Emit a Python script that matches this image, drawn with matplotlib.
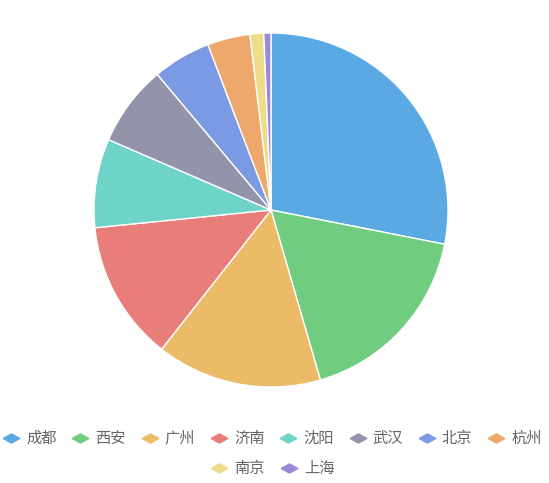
import matplotlib.pyplot as plt

plt.rcParams['font.family'] = ['Noto Sans CJK SC', 'DejaVu Sans']

cities = ["成都", "西安", "广州", "济南", "沈阳", "武汉", "北京", "杭州", "南京", "上海"]
values = [28.1, 17.4, 15.1, 12.8, 8.1, 7.4, 5.3, 3.9, 1.25, 0.65]
colors = ["#5aa9e3", "#70cc7e", "#ebbb68", "#e97d79", "#6fd4c8",
          "#9394ac", "#7a9ae3", "#efa86b", "#efdc8a", "#9b88d6"]

W, H = 549, 483
fig = plt.figure(figsize=(W / 100, H / 100), dpi=100)

# pie area: centre (271, 210), radius 177 px
ax = fig.add_axes([94 / W, (H - 387) / H, 354 / W, 354 / H])
ax.pie(values, colors=colors, startangle=90, counterclock=False,
       wedgeprops=dict(edgecolor="white", linewidth=1))
ax.set_xlim(-1, 1)
ax.set_ylim(-1, 1)
ax.set_aspect("equal")

# legend drawn by hand: row 1 has 8 items, row 2 the last 2
diamond = [(-1, 0), (0, 0.55), (1, 0), (0, -0.55), (-1, 0)]
lax = fig.add_axes([0, 0, 1, 1])
lax.set_xlim(0, W)
lax.set_ylim(H, 0)
lax.axis("off")
row1_x = [11 + 69.3 * i for i in range(8)]
row2_x = [219, 289]
slots = [(x, 438) for x in row1_x] + [(x, 468) for x in row2_x]
for (x, y), name, c in zip(slots, cities, colors):
    lax.plot(x, y, marker=diamond, markersize=12, color=c, linestyle="none")
    lax.text(x + 15, y, name, fontsize=11, color="#666666", va="center", ha="left")

fig.savefig("out.png", dpi=100)
